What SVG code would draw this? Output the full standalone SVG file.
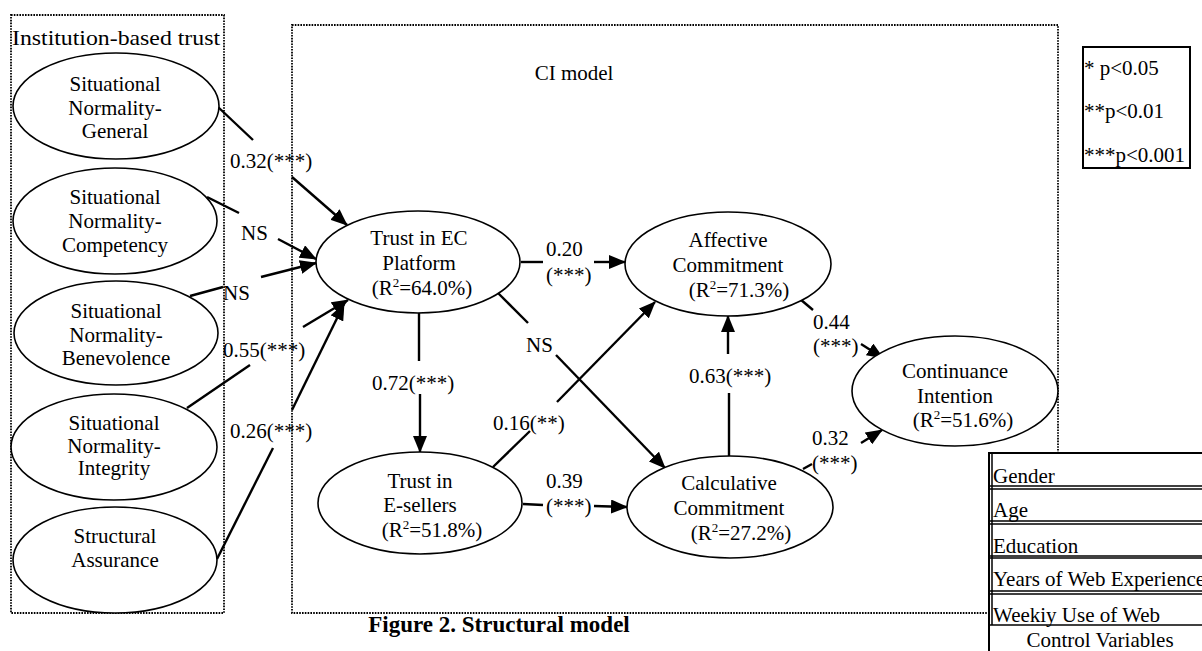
<svg xmlns="http://www.w3.org/2000/svg" width="1202" height="651" viewBox="0 0 1202 651">
<defs>
<style>
text{font-family:"Liberation Serif","Times New Roman",serif;font-size:21px;fill:#000}
.c{text-anchor:middle}
.node{fill:#fff;stroke:#000;stroke-width:1.6}
.dot{fill:none;stroke:#000;stroke-width:1.8;stroke-dasharray:1.6 1.2}
.ln{stroke:#000;stroke-width:2.4;fill:none}
.ar{stroke:#000;stroke-width:2.4;fill:none;marker-end:url(#ah)}
.sup{font-size:13px}
.cap{font-weight:bold;font-size:23px}
.title{font-size:22px}
</style>
<marker id="ah" markerUnits="userSpaceOnUse" markerWidth="18" markerHeight="14" refX="16" refY="7" orient="auto">
<path d="M0,0 L17,7 L0,14 z" fill="#000"/>
</marker>
</defs>
<rect width="1202" height="651" fill="#fff"/>

<g id="frames">
<rect class="dot" x="11" y="15" width="213" height="598"/>
<text class="title" x="12" y="45" textLength="208" lengthAdjust="spacingAndGlyphs">Institution-based trust</text>
<rect class="dot" x="292" y="25" width="766" height="588"/>
<text class="c" x="574" y="80">CI model</text>
</g>

<g id="connectors">
<line class="ln" x1="218" y1="107" x2="253" y2="140"/>
<line class="ar" x1="292" y1="177" x2="347" y2="225"/>
<line class="ln" x1="207" y1="197" x2="239" y2="213"/>
<line class="ar" x1="278" y1="239" x2="316" y2="259"/>
<line class="ln" x1="190" y1="296" x2="223" y2="287"/>
<line class="ar" x1="261" y1="277" x2="316" y2="263"/>
<line class="ln" x1="187" y1="408" x2="250" y2="365"/>
<line class="ar" x1="303" y1="327" x2="348" y2="300"/>
<line class="ln" x1="217" y1="559" x2="273" y2="448"/>
<line class="ar" x1="292" y1="410" x2="344" y2="304"/>
<line class="ln" x1="521" y1="262" x2="543" y2="262"/>
<line class="ar" x1="594" y1="262" x2="625" y2="262"/>
<line class="ln" x1="419" y1="313" x2="419" y2="361"/>
<line class="ar" x1="420" y1="394" x2="420" y2="452"/>
<line class="ln" x1="498" y1="293" x2="528" y2="323"/>
<line class="ar" x1="556" y1="355" x2="665" y2="468"/>
<line class="ln" x1="493" y1="467" x2="530" y2="431"/>
<line class="ar" x1="557" y1="402" x2="655" y2="302"/>
<line class="ln" x1="523" y1="504" x2="543" y2="505"/>
<line class="ar" x1="594" y1="506" x2="627" y2="507"/>
<line class="ln" x1="729" y1="456" x2="729" y2="393"/>
<line class="ar" x1="728" y1="354" x2="728" y2="316"/>
<line class="ln" x1="800" y1="299" x2="813" y2="310"/>
<line class="ar" x1="861" y1="344" x2="883" y2="358"/>
<line class="ln" x1="803" y1="469" x2="812" y2="464"/>
<line class="ar" x1="861" y1="443" x2="882" y2="430"/>
<text x="230" y="168">0.32(***)</text>
<text x="241" y="240">NS</text>
<text x="223" y="300">NS</text>
<text x="223" y="357">0.55(***)</text>
<text x="230" y="438">0.26(***)</text>
<text x="546" y="256">0.20</text>
<text x="546" y="282">(***)</text>
<text x="372" y="390">0.72(***)</text>
<text x="526" y="352">NS</text>
<text x="493" y="430">0.16(**)</text>
<text x="546" y="488">0.39</text>
<text x="546" y="513">(***)</text>
<text x="689" y="383">0.63(***)</text>
<text x="813" y="329">0.44</text>
<text x="813" y="353">(***)</text>
<text x="812" y="445">0.32</text>
<text x="812" y="470">(***)</text>
</g>

<g id="sn-general">
<ellipse class="node" cx="116" cy="106" rx="103" ry="53"/>
<text class="c" x="115" y="91">Situational</text>
<text class="c" x="115" y="115">Normality-</text>
<text class="c" x="115" y="138">General</text>
</g>
<g id="sn-competency">
<ellipse class="node" cx="115" cy="221" rx="102" ry="53"/>
<text class="c" x="115" y="204">Situational</text>
<text class="c" x="115" y="228">Normality-</text>
<text class="c" x="115" y="252">Competency</text>
</g>
<g id="sn-benevolence">
<ellipse class="node" cx="116" cy="333" rx="102" ry="52"/>
<text class="c" x="116" y="318">Situational</text>
<text class="c" x="116" y="342">Normality-</text>
<text class="c" x="116" y="365">Benevolence</text>
</g>
<g id="sn-integrity">
<ellipse class="node" cx="114" cy="447" rx="103" ry="53"/>
<text class="c" x="114" y="430">Situational</text>
<text class="c" x="114" y="453">Normality-</text>
<text class="c" x="114" y="475">Integrity</text>
</g>
<g id="structural-assurance">
<ellipse class="node" cx="115" cy="560" rx="102" ry="53"/>
<text class="c" x="115" y="543">Structural</text>
<text class="c" x="115" y="567">Assurance</text>
</g>

<g id="trust-ec">
<ellipse class="node" cx="418" cy="262" rx="102" ry="51"/>
<text class="c" x="419" y="245">Trust in EC</text>
<text class="c" x="419" y="270">Platform</text>
<text class="c" x="422" y="295">(R<tspan class="sup" dy="-8">2</tspan><tspan dy="8">=64.0%)</tspan></text>
</g>
<g id="trust-esellers">
<ellipse class="node" cx="420" cy="503" rx="102" ry="51"/>
<text class="c" x="420" y="488">Trust in</text>
<text class="c" x="420" y="512">E-sellers</text>
<text class="c" x="432" y="537">(R<tspan class="sup" dy="-8">2</tspan><tspan dy="8">=51.8%)</tspan></text>
</g>
<g id="affective">
<ellipse class="node" cx="728" cy="264" rx="103" ry="52"/>
<text class="c" x="728" y="247">Affective</text>
<text class="c" x="728" y="272">Commitment</text>
<text class="c" x="739" y="297">(R<tspan class="sup" dy="-8">2</tspan><tspan dy="8">=71.3%)</tspan></text>
</g>
<g id="calculative">
<ellipse class="node" cx="730" cy="507" rx="103" ry="51"/>
<text class="c" x="729" y="490">Calculative</text>
<text class="c" x="729" y="515">Commitment</text>
<text class="c" x="741" y="540">(R<tspan class="sup" dy="-8">2</tspan><tspan dy="8">=27.2%)</tspan></text>
</g>
<g id="continuance">
<ellipse class="node" cx="955" cy="391" rx="103" ry="55"/>
<text class="c" x="955" y="378">Continuance</text>
<text class="c" x="955" y="403">Intention</text>
<text class="c" x="963" y="427">(R<tspan class="sup" dy="-8">2</tspan><tspan dy="8">=51.6%)</tspan></text>
</g>

<g id="legend">
<rect x="1083" y="47" width="107" height="121" fill="#fff" stroke="#000" stroke-width="2"/>
<text x="1084" y="75">* p&lt;0.05</text>
<text x="1084" y="118">**p&lt;0.01</text>
<text x="1084" y="162">***p&lt;0.001</text>
</g>

<g id="control-variables">
<rect x="989" y="453" width="230" height="210" fill="#fff" stroke="#000" stroke-width="2"/>
<line x1="992" y1="453" x2="992" y2="625" stroke="#000" stroke-width="1.5"/>
<g stroke="#000" stroke-width="1.6">
<line x1="989" y1="486" x2="1202" y2="486"/>
<line x1="989" y1="489" x2="1202" y2="489"/>
<line x1="989" y1="521" x2="1202" y2="521"/>
<line x1="989" y1="524" x2="1202" y2="524"/>
<line x1="989" y1="556" x2="1202" y2="556"/>
<line x1="989" y1="558" x2="1202" y2="558"/>
<line x1="989" y1="591" x2="1202" y2="591"/>
<line x1="989" y1="594" x2="1202" y2="594"/>
<line x1="989" y1="625" x2="1202" y2="625"/>
</g>
<text x="993" y="483">Gender</text>
<text x="993" y="517">Age</text>
<text x="993" y="553">Education</text>
<text x="993" y="586">Years of Web Experience</text>
<text x="993" y="622">Weekiy Use of Web</text>
<text class="c" x="1100" y="647">Control Variables</text>
</g>

<g id="caption">
<text class="cap c" x="499" y="632">Figure 2. Structural model</text>
</g>
</svg>
